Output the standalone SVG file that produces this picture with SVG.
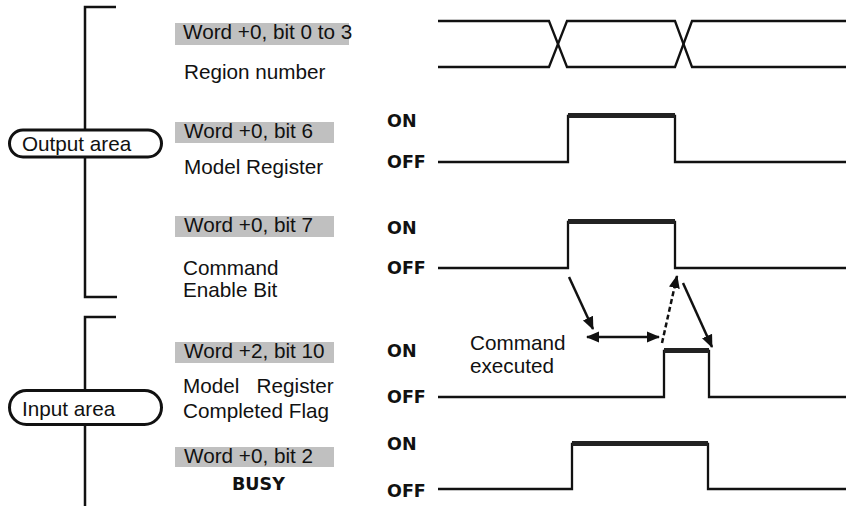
<svg xmlns="http://www.w3.org/2000/svg" width="846" height="506" viewBox="0 0 846 506">
<style>
.lbl{font-family:"Liberation Sans",Arial,sans-serif;font-size:20.7px;fill:#111}
.oo{font-family:"DejaVu Sans",Verdana,sans-serif;font-size:17.5px;font-weight:bold;fill:#111}
.box{fill:#c0c0c0}
.ln{fill:none;stroke:#111;stroke-width:2.3}
.thick{fill:none;stroke:#222;stroke-width:5}
.br{fill:none;stroke:#111;stroke-width:2.5}
.pill{fill:#fff;stroke:#111;stroke-width:3}
.arr{fill:none;stroke:#111;stroke-width:2.5}
</style>
<defs>
<marker id="ah" markerUnits="userSpaceOnUse" markerWidth="13" markerHeight="13" viewBox="0 0 13 13" refX="12" refY="6.5" orient="auto-start-reverse">
<path d="M0,1 L13,6.5 L0,12 Z" fill="#111"/>
</marker>
</defs>

<g id="output-area">
<path class="br" d="M116,7 H85 V297 H117"/>
<rect class="pill" x="9.5" y="130" width="152" height="27" rx="13.5"/>
<text class="lbl" x="22" y="151">Output area</text>
</g>

<g id="input-area">
<path class="br" d="M116,317 H85 V506"/>
<rect class="pill" x="9.5" y="390.5" width="152" height="34" rx="17"/>
<text class="lbl" x="22" y="416">Input area</text>
</g>

<g id="region-number">
<rect class="box" x="175" y="23" width="174" height="22"/>
<text class="lbl" x="183" y="39">Word +0, bit 0 to 3</text>
<text class="lbl" x="184" y="79">Region number</text>
<path class="ln" d="M438,21 H549 L567,67 H675 L692,21 H846"/>
<path class="ln" d="M438,67 H549 L567,21 H675 L692,67 H846"/>
</g>

<g id="model-register">
<rect class="box" x="175" y="122" width="159" height="21"/>
<text class="lbl" x="184" y="138">Word +0, bit 6</text>
<text class="lbl" x="184" y="174">Model Register</text>
<text class="oo" x="387" y="127">ON</text>
<text class="oo" x="387" y="168">OFF</text>
<path class="ln" d="M438,162 H568 V116 H675 V162 H846"/>
<path class="thick" d="M568,115.5 H675"/>
</g>

<g id="command-enable">
<rect class="box" x="175" y="216" width="159" height="21"/>
<text class="lbl" x="184" y="232">Word +0, bit 7</text>
<text class="lbl" x="183" y="275">Command</text>
<text class="lbl" x="183" y="297">Enable Bit</text>
<text class="oo" x="387" y="234">ON</text>
<text class="oo" x="387" y="274">OFF</text>
<path class="ln" d="M438,268 H568 V222 H675 V268 H846"/>
<path class="thick" d="M568,221.5 H675"/>
</g>

<g id="completed-flag">
<rect class="box" x="175" y="342" width="159" height="21"/>
<text class="lbl" x="184" y="358">Word +2, bit 10</text>
<text class="lbl" x="183" y="393" xml:space="preserve">Model   Register</text>
<text class="lbl" x="183" y="418">Completed Flag</text>
<text class="oo" x="387" y="357">ON</text>
<text class="oo" x="387" y="403">OFF</text>
<path class="ln" d="M438,397 H664 V351 H709 V397 H846"/>
<path class="thick" d="M664,350.5 H709"/>
</g>

<g id="busy">
<rect class="box" x="175" y="447" width="159" height="20"/>
<text class="lbl" x="184" y="463">Word +0, bit 2</text>
<text class="oo" x="232" y="490">BUSY</text>
<text class="oo" x="387" y="450">ON</text>
<text class="oo" x="387" y="497">OFF</text>
<path class="ln" d="M438,489 H572 V444 H708 V489 H846"/>
<path class="thick" d="M572,443.5 H708"/>
</g>

<g id="command-executed">
<text class="lbl" x="470" y="350">Command</text>
<text class="lbl" x="470" y="373">executed</text>
</g>

<g id="connectors">
<path class="arr" d="M569,277 L593,329" marker-end="url(#ah)"/>
<path class="arr" d="M587,337 H659" stroke-width="3.2" marker-start="url(#ah)" marker-end="url(#ah)"/>
<path class="arr" d="M662,343 L677,276" stroke-dasharray="5,3" marker-end="url(#ah)"/>
<path class="arr" d="M683,283 L712,347" marker-end="url(#ah)"/>
</g>
</svg>
